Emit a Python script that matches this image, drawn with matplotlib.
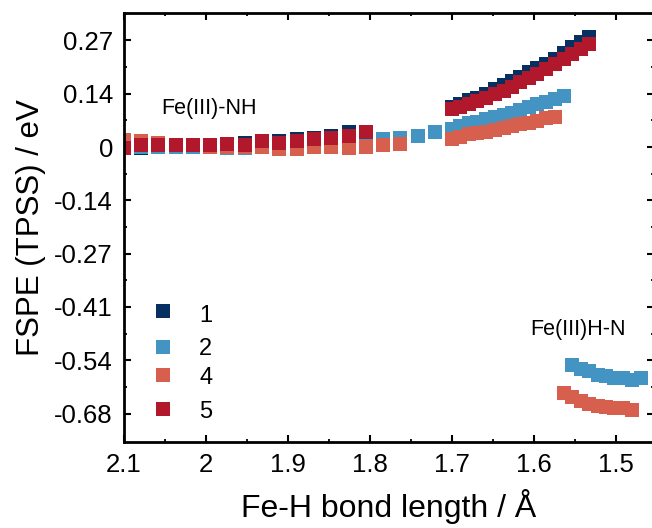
import matplotlib
matplotlib.use("Agg")
import matplotlib.pyplot as plt
from matplotlib.ticker import FixedLocator, MultipleLocator

plt.rcParams["font.family"] = ["Liberation Sans", "DejaVu Sans"]

# Fe-H bond length grids (Å)
x_scan1 = [2.100, 2.079, 2.058, 2.037, 2.016, 1.995, 1.974, 1.953, 1.932, 1.911,
           1.889, 1.868, 1.847, 1.826, 1.805, 1.784, 1.763, 1.742, 1.721]
x_scan2 = [1.700, 1.690, 1.679, 1.669, 1.658, 1.648, 1.637, 1.627, 1.617, 1.606,
           1.596, 1.585, 1.575, 1.564, 1.554, 1.543, 1.533]
x_scan3 = [1.564, 1.554, 1.543, 1.533, 1.522, 1.512, 1.502, 1.491, 1.480, 1.470]

# FSPE values (eV) per complex
fspe1_a = [-0.003, -0.003, 0.000, 0.000, 0.000, 0.002, 0.004, 0.009, 0.012, 0.014,
           0.019, 0.024, 0.029, 0.037, 0.036]
fspe1_b = [0.101, 0.108, 0.118, 0.125, 0.135, 0.146, 0.156, 0.166, 0.178, 0.189,
           0.199, 0.211, 0.223, 0.237, 0.252, 0.265, 0.278]

fspe2_a = [0.000, -0.001, 0.000, 0.001, -0.001, 0.000, -0.003, -0.003, 0.000, 0.002,
           0.004, 0.006, 0.008, 0.010, 0.014, 0.019, 0.024, 0.029, 0.039]
fspe2_b = [0.046, 0.052, 0.060, 0.064, 0.070, 0.076, 0.082, 0.087, 0.094, 0.102,
           0.108, 0.115, 0.121, 0.128]
fspe2_c = [-0.553, -0.561, -0.568, -0.576, -0.581, -0.584, -0.586, -0.589, -0.586]

fspe4_a = [0.017, 0.014, 0.009, 0.006, 0.004, 0.001, 0.001, 0.000, 0.000, -0.004,
           -0.004, -0.001, -0.001, -0.003, 0.001, 0.004, 0.007]
fspe4_b = [0.020, 0.025, 0.033, 0.035, 0.039, 0.044, 0.049, 0.052, 0.057, 0.060,
           0.067, 0.074, 0.077]
fspe4_c = [-0.624, -0.634, -0.642, -0.650, -0.655, -0.657, -0.662, -0.662, -0.665]

fspe5_a = [-0.003, 0.004, 0.004, 0.004, 0.006, 0.006, 0.008, 0.004, 0.014, 0.009,
           0.014, 0.019, 0.024, 0.029, 0.037]
fspe5_b = [0.095, 0.101, 0.109, 0.116, 0.124, 0.134, 0.143, 0.153, 0.164, 0.175,
           0.185, 0.197, 0.209, 0.222, 0.236, 0.249, 0.261]

series = [
    ("1", "#053061", x_scan1[:15] + x_scan2, fspe1_a + fspe1_b),
    ("2", "#4393c3", x_scan1 + x_scan2[:14] + x_scan3[1:], fspe2_a + fspe2_b + fspe2_c),
    ("4", "#d6604d", x_scan1[:17] + x_scan2[:13] + x_scan3[:9], fspe4_a + fspe4_b + fspe4_c),
    ("5", "#b2182b", x_scan1[:15] + x_scan2, fspe5_a + fspe5_b),
]

y_ticks = [-0.675, -0.54, -0.405, -0.27, -0.135, 0.0, 0.135, 0.27]
y_labels = ["-0.68", "-0.54", "-0.41", "-0.27", "-0.14", "0", "0.14", "0.27"]
x_ticks = [2.1, 2.0, 1.9, 1.8, 1.7, 1.6, 1.5]
x_labels = ["2.1", "2", "1.9", "1.8", "1.7", "1.6", "1.5"]

fig = plt.figure(figsize=(6.52, 5.28), dpi=100)
ax = fig.add_axes([124 / 652, (528 - 442.3) / 528, 530 / 652, 429 / 528])

ms = 9.4
for name, color, xs, ys in series:
    ax.plot(xs, ys, linestyle="none", marker="s", ms=ms, mew=0, color=color)

ax.set_xlim(2.1, 2.1 - 530 / 820)
ax.set_ylim(-0.7476, 0.3385)

ax.xaxis.set_major_locator(FixedLocator(x_ticks))
ax.set_xticklabels(x_labels)
ax.xaxis.set_minor_locator(MultipleLocator(0.05))
ax.yaxis.set_major_locator(FixedLocator(y_ticks))
ax.set_yticklabels(y_labels)
ax.yaxis.set_minor_locator(FixedLocator([t + 0.0675 for t in y_ticks]))

for s in ax.spines.values():
    s.set_linewidth(2.0)
ax.tick_params(which="both", direction="in", top=True, right=True)
ax.tick_params(which="major", length=5, width=1.5, labelsize=18.5, pad=8)
ax.tick_params(which="minor", length=2.5, width=1.3)

ax.set_xlabel("Fe-H bond length / Å", fontsize=23, labelpad=8)
ax.set_ylabel("FSPE (TPSS) / eV", fontsize=22.5, labelpad=6)

ax.text(0.070, 0.7653, "Fe(III)-NH", transform=ax.transAxes, fontsize=15.5,
        ha="left", va="baseline")
ax.text(0.766, 0.2501, "Fe(III)H-N", transform=ax.transAxes, fontsize=15.5,
        ha="left", va="baseline")

# legend entries
leg_marker_y = [0.305, 0.2233, 0.158, 0.0765]
leg_text_y = [0.2811, 0.2035, 0.1359, 0.0559]
for (name, color, _, _), my, ty in zip(series, leg_marker_y, leg_text_y):
    ax.plot([0.0745], [my], transform=ax.transAxes, linestyle="none", marker="s",
            ms=ms, mew=0, color=color, clip_on=False)
    ax.text(0.142, ty, name, transform=ax.transAxes, fontsize=17,
            ha="left", va="baseline")

fig.savefig("out.png", dpi=100)
